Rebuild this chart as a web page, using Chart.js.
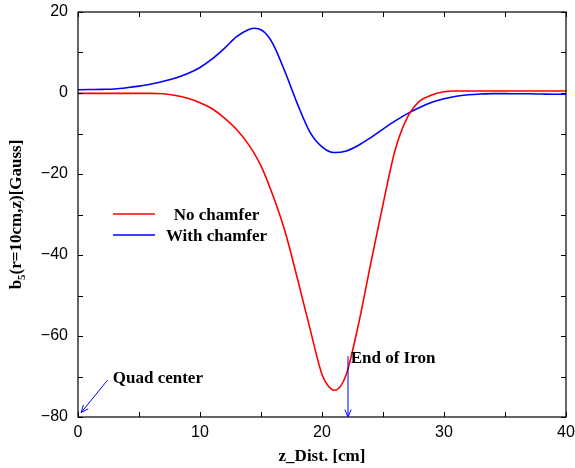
<!DOCTYPE html>
<html>
<head>
<meta charset="utf-8">
<script src="https://cdn.jsdelivr.net/npm/chart.js@4/dist/chart.umd.min.js"></script>
<style>
html,body{margin:0;padding:0;background:#fff;}
#wrap{width:575px;height:468px;position:relative;}
</style>
</head>
<body>
<div id="wrap"><canvas id="c" width="575" height="468"></canvas></div>
<script>
// ---- data ----
const zNoChamfer = [0,1,2,3,4,5,6,7,8,9,10,11,12,13,14,15,16,17,18,19,20,20.5,21,21.5,22,23,24,25,26,27,28,29,30,31,32,33,34,35,36,37,38,39,40];
const bNoChamfer = [-0.1,-0.1,-0.1,-0.1,-0.1,-0.1,-0.1,-0.2,-0.6,-1.3,-2.4,-3.9,-6.2,-9.0,-12.8,-18.0,-25.5,-34.5,-46.0,-58.0,-69.5,-72.3,-73.4,-72.5,-69.4,-57.0,-42.0,-27.5,-14.0,-6.0,-2.0,-0.5,0.3,0.5,0.5,0.5,0.5,0.5,0.5,0.5,0.5,0.5,0.5];
const zWithChamfer = [0,1,2,3,4,5,6,7,8,9,10,11,12,13,14,14.5,15,15.5,16,17,18,19,20,21,22,23,24,25,26,27,28,29,30,31,32,33,34,35,36,37,38,39,40];
const bWithChamfer = [0.8,0.85,0.9,1.0,1.3,1.7,2.2,2.9,3.7,4.8,6.3,8.4,11.0,13.9,15.7,16.0,15.6,14.3,12.0,5.0,-2.8,-9.6,-13.3,-14.7,-14.3,-12.9,-11.0,-8.9,-6.9,-5.1,-3.6,-2.3,-1.4,-0.8,-0.45,-0.25,-0.15,-0.15,-0.2,-0.2,-0.25,-0.3,-0.3];
const seriesNames = ["No chamfer","With chamfer"];
const xTicks = [0,10,20,30,40];
const yTicks = [20,0,-20,-40,-60,-80];
const annotations = [
  {text:"Quad center", tx:2.85, ty:-71.5, from:[2.42,-70.9], to:[0.26,-78.9]},
  {text:"End of Iron", tx:22.35, ty:-66.7, from:[22.13,-65.0], to:[22.13,-80]}
];

const toPts = (xs, ys) => xs.map((x,i)=>({x:x, y:ys[i]}));
const fmt = v => (v < 0 ? "\u2212" + Math.abs(v) : String(v));

const SERIF = '"Liberation Serif","Times New Roman",serif';
const SANS = '"Liberation Sans",Arial,sans-serif';

function arrow(ctx, x1, y1, x2, y2, head){
  ctx.beginPath(); ctx.moveTo(x1,y1); ctx.lineTo(x2,y2); ctx.stroke();
  const a = Math.atan2(y2-y1, x2-x1);
  ctx.beginPath();
  ctx.moveTo(x2 - head*Math.cos(a-0.4), y2 - head*Math.sin(a-0.4));
  ctx.lineTo(x2,y2);
  ctx.lineTo(x2 - head*Math.cos(a+0.4), y2 - head*Math.sin(a+0.4));
  ctx.stroke();
}

const decor = {
  id:'decor',
  afterDatasetsDraw(chart){
    const ctx = chart.ctx, ca = chart.chartArea, xs = chart.scales.x, ys = chart.scales.y;
    ctx.save();
    // frame
    ctx.strokeStyle = '#000'; ctx.lineWidth = 1.2;
    ctx.strokeRect(ca.left, ca.top, ca.right-ca.left, ca.bottom-ca.top);
    // ticks
    const tl = 5;
    ctx.lineWidth = 1;
    ctx.beginPath();
    for (let v = 0; v <= 40; v += 5){
      const px = Math.round(xs.getPixelForValue(v)) + 0.5;
      ctx.moveTo(px, ca.bottom); ctx.lineTo(px, ca.bottom - tl);
      ctx.moveTo(px, ca.top); ctx.lineTo(px, ca.top + tl);
    }
    for (let v = -80; v <= 20; v += 10){
      const py = Math.round(ys.getPixelForValue(v)) + 0.5;
      ctx.moveTo(ca.left, py); ctx.lineTo(ca.left + tl, py);
      ctx.moveTo(ca.right, py); ctx.lineTo(ca.right - tl, py);
    }
    ctx.stroke();
    // legend
    const ds = chart.data.datasets;
    ctx.font = 'bold 17px ' + SERIF;
    ctx.textAlign = 'center'; ctx.textBaseline = 'alphabetic';
    const ly = [214, 235];
    ds.forEach((d,i)=>{
      ctx.strokeStyle = d.borderColor; ctx.lineWidth = 1.6;
      ctx.beginPath(); ctx.moveTo(113, ly[i]); ctx.lineTo(155, ly[i]); ctx.stroke();
      ctx.fillStyle = '#000';
      ctx.fillText(d.label, 216.5, ly[i] + 6);
    });
    // annotations
    ctx.textAlign = 'left';
    annotations.forEach(a=>{
      ctx.strokeStyle = '#0000ff'; ctx.lineWidth = 1;
      arrow(ctx, xs.getPixelForValue(a.from[0]), ys.getPixelForValue(a.from[1]),
                 xs.getPixelForValue(a.to[0]), ys.getPixelForValue(a.to[1]), 8);
      ctx.fillStyle = '#000';
      ctx.fillText(a.text, xs.getPixelForValue(a.tx), ys.getPixelForValue(a.ty));
    });
    // x title
    ctx.textAlign = 'center';
    ctx.fillText('z_Dist. [cm]', (ca.left+ca.right)/2, 461);
    // y title with subscript
    ctx.translate(21, (ca.top+ca.bottom)/2);
    ctx.rotate(-Math.PI/2);
    const p1 = 'b', sub = '5', p2 = '(r=10cm,z)[Gauss]';
    ctx.font = 'bold 17px ' + SERIF;
    const w1 = ctx.measureText(p1).width, w3 = ctx.measureText(p2).width;
    ctx.font = 'bold 11px ' + SERIF;
    const w2 = ctx.measureText(sub).width;
    let x0 = -(w1+w2+w3)/2;
    ctx.textAlign = 'left';
    ctx.font = 'bold 17px ' + SERIF;
    ctx.fillText(p1, x0, 0);
    ctx.font = 'bold 11px ' + SERIF;
    ctx.fillText(sub, x0 + w1, 4);
    ctx.font = 'bold 17px ' + SERIF;
    ctx.fillText(p2, x0 + w1 + w2, 0);
    ctx.restore();
  }
};

new Chart(document.getElementById('c'), {
  type:'line',
  data:{
    datasets:[
      {label:seriesNames[0], data:toPts(zNoChamfer,bNoChamfer), borderColor:'#ff0000', borderWidth:1.6, pointRadius:0, fill:false, cubicInterpolationMode:'monotone'},
      {label:seriesNames[1], data:toPts(zWithChamfer,bWithChamfer), borderColor:'#0000ff', borderWidth:1.6, pointRadius:0, fill:false, cubicInterpolationMode:'monotone'}
    ]
  },
  options:{
    responsive:false, animation:false,
    layout:{padding:{top:12, right:9, left:0, bottom:0}},
    plugins:{legend:{display:false}, tooltip:{enabled:false}},
    scales:{
      x:{type:'linear', min:0, max:40,
         afterBuildTicks(s){ s.ticks = xTicks.map(v=>({value:v})); },
         afterFit(s){ s.height = 51; s.paddingLeft = 0; s.paddingRight = 0; },
         grid:{display:false, drawTicks:false}, border:{display:false},
         ticks:{color:'#000', font:{family:SANS, size:16}, padding:6, maxRotation:0, callback:v=>fmt(v)}},
      y:{type:'linear', min:-80, max:20,
         afterBuildTicks(s){ s.ticks = yTicks.map(v=>({value:v})); },
         afterFit(s){ s.width = 78; s.paddingTop = 0; s.paddingBottom = 0; },
         grid:{display:false, drawTicks:false}, border:{display:false},
         ticks:{color:'#000', font:{family:SANS, size:16}, padding:10, callback:v=>fmt(v)}}
    }
  },
  plugins:[decor]
});
</script>
</body>
</html>
